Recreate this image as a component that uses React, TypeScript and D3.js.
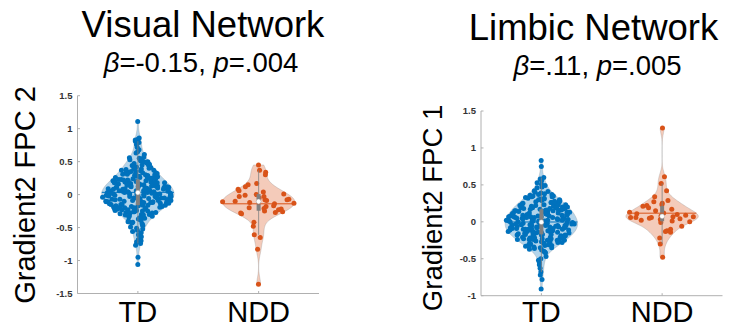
import React from 'react';
import * as d3 from 'd3';

const CATEGORIES = ['TD', 'NDD'];

const VIS_TD = [
  1.11, 0.86, 0.84, 0.83, 0.81, 0.79, 0.76, 0.72, 0.68, 0.65, 0.63, 0.61,
  0.57, 0.56, 0.55, 0.54, 0.53,
  0.52, 0.51, 0.50, 0.50, 0.49, 0.48,
  0.47, 0.46, 0.45, 0.45, 0.44, 0.43,
  0.42, 0.41, 0.41, 0.40, 0.39, 0.39, 0.38,
  0.37, 0.37, 0.36, 0.35, 0.35, 0.34, 0.34, 0.33, 0.33,
  0.32, 0.32, 0.31, 0.31, 0.30, 0.30, 0.29, 0.29, 0.28, 0.28,
  0.27, 0.27, 0.26, 0.26, 0.25, 0.25, 0.25, 0.24, 0.24, 0.23, 0.23, 0.23,
  0.22, 0.22, 0.21, 0.21, 0.21, 0.20, 0.20, 0.19, 0.19, 0.19, 0.18, 0.18, 0.18,
  0.17, 0.17, 0.17, 0.16, 0.16, 0.16, 0.15, 0.15, 0.15, 0.14, 0.14, 0.14, 0.13, 0.13, 0.13,
  0.12, 0.12, 0.12, 0.11, 0.11, 0.11, 0.11, 0.10, 0.10, 0.10, 0.10, 0.09, 0.09, 0.09, 0.09, 0.08, 0.08, 0.08,
  0.07, 0.07, 0.07, 0.06, 0.06, 0.06, 0.06, 0.05, 0.05, 0.05, 0.05, 0.04, 0.04, 0.04, 0.04, 0.03, 0.03, 0.03,
  0.02, 0.02, 0.02, 0.02, 0.01, 0.01, 0.01, 0.01, 0.00, 0.00, 0.00, 0.00, -0.01, -0.01, -0.01, -0.01, -0.02, -0.02, -0.02,
  -0.03, -0.03, -0.03, -0.03, -0.04, -0.04, -0.04, -0.04, -0.05, -0.05, -0.05, -0.05, -0.06, -0.06, -0.06, -0.07, -0.07, -0.07,
  -0.08, -0.08, -0.08, -0.09, -0.09, -0.09, -0.09, -0.10, -0.10, -0.10, -0.11, -0.11, -0.11, -0.12, -0.12, -0.12, -0.12,
  -0.13, -0.13, -0.13, -0.14, -0.14, -0.14, -0.15, -0.15, -0.15, -0.16, -0.16, -0.16, -0.17, -0.17, -0.17,
  -0.18, -0.18, -0.19, -0.19, -0.19, -0.20, -0.20, -0.21, -0.21, -0.21, -0.22, -0.22, -0.22,
  -0.23, -0.23, -0.24, -0.24, -0.25, -0.25, -0.26, -0.26, -0.27, -0.27,
  -0.28, -0.28, -0.29, -0.30, -0.30, -0.31, -0.31, -0.32,
  -0.33, -0.34, -0.35, -0.36, -0.36, -0.37,
  -0.38, -0.39, -0.40, -0.41, -0.42,
  -0.43, -0.44, -0.46, -0.47,
  -0.49, -0.51, -0.52,
  -0.54, -0.56, -0.58, -0.61, -0.64, -0.68, -0.70, -0.72, -0.74, -0.77, -0.95, -1.06,
];

const VIS_NDD = [
  0.45, 0.37, 0.34, 0.30, 0.17, 0.15, 0.12, 0.08, 0.06, 0.04, 0.01, 0.0, -0.01,
  -0.03, -0.03, -0.05, -0.07, -0.08, -0.08, -0.09, -0.10, -0.11, -0.12, -0.13, -0.14,
  -0.17, -0.18, -0.20, -0.21, -0.22, -0.23, -0.25, -0.26, -0.27, -0.28, -0.29,
  -0.42, -0.48, -0.61, -0.65, -0.83, -1.36,
];

const LIM_TD = [
  0.83, 0.75, 0.60, 0.58, 0.56, 0.53, 0.51, 0.49, 0.47, 0.46,
  0.42, 0.41, 0.40, 0.39, 0.38,
  0.37, 0.37, 0.36, 0.35, 0.35, 0.34, 0.34, 0.33,
  0.32, 0.32, 0.31, 0.31, 0.30, 0.30, 0.29, 0.29, 0.28, 0.28,
  0.27, 0.27, 0.26, 0.26, 0.25, 0.25, 0.25, 0.24, 0.24, 0.23, 0.23, 0.23,
  0.22, 0.22, 0.22, 0.21, 0.21, 0.21, 0.20, 0.20, 0.19, 0.19, 0.19, 0.18, 0.18, 0.18,
  0.17, 0.17, 0.17, 0.16, 0.16, 0.16, 0.15, 0.15, 0.15, 0.15, 0.14, 0.14, 0.14, 0.13, 0.13, 0.13,
  0.12, 0.12, 0.12, 0.11, 0.11, 0.11, 0.11, 0.10, 0.10, 0.10, 0.10, 0.09, 0.09, 0.09, 0.08, 0.08, 0.08,
  0.07, 0.07, 0.07, 0.07, 0.06, 0.06, 0.06, 0.06, 0.05, 0.05, 0.05, 0.05, 0.04, 0.04, 0.04, 0.03, 0.03, 0.03,
  0.02, 0.02, 0.02, 0.02, 0.01, 0.01, 0.01, 0.01, 0.00, 0.00, 0.00, 0.00, -0.01, -0.01, -0.01, -0.01, -0.02, -0.02, -0.02,
  -0.03, -0.03, -0.03, -0.03, -0.04, -0.04, -0.04, -0.04, -0.05, -0.05, -0.05, -0.05, -0.06, -0.06, -0.06, -0.06, -0.07, -0.07, -0.07, -0.07,
  -0.08, -0.08, -0.08, -0.08, -0.09, -0.09, -0.09, -0.09, -0.10, -0.10, -0.10, -0.10, -0.11, -0.11, -0.11, -0.11, -0.12, -0.12, -0.12,
  -0.13, -0.13, -0.13, -0.13, -0.14, -0.14, -0.14, -0.14, -0.15, -0.15, -0.15, -0.16, -0.16, -0.16, -0.17, -0.17, -0.17,
  -0.18, -0.18, -0.18, -0.19, -0.19, -0.19, -0.20, -0.20, -0.20, -0.21, -0.21, -0.21, -0.22, -0.22, -0.22,
  -0.23, -0.23, -0.23, -0.24, -0.24, -0.24, -0.25, -0.25, -0.25, -0.26, -0.26, -0.27, -0.27,
  -0.28, -0.28, -0.29, -0.29, -0.30, -0.30, -0.31, -0.31, -0.32, -0.32,
  -0.33, -0.33, -0.34, -0.35, -0.35, -0.36, -0.37,
  -0.38, -0.40, -0.41, -0.42,
  -0.47, -0.50, -0.52, -0.55, -0.58, -0.63, -0.68, -0.72, -0.78, -0.91,
];

const LIM_NDD = [
  1.27, 0.61, 0.52, 0.42, 0.34, 0.29, 0.27, 0.25, 0.23, 0.22, 0.21, 0.19, 0.17, 0.15,
  0.13, 0.12, 0.11, 0.10, 0.09, 0.08, 0.07, 0.07, 0.06, 0.06, 0.06, 0.05, 0.04, 0.03,
  0.02, 0.01, 0.0, -0.01, -0.06, -0.10, -0.12, -0.13, -0.14, -0.22, -0.30, -0.48,
];

const VIS_TICKS = [-1.5, -1, -0.5, 0, 0.5, 1, 1.5];
const LIM_TICKS = [-1, -0.5, 0, 0.5, 1, 1.5];

const COLORS = ['#0072BD', '#D95319'];

const FONT = '"Liberation Sans", Arial, Helvetica, sans-serif';

interface PanelCfg {
  title: string;
  beta: string;
  pval: string;
  ylabel: string;
  groups: number[][];
  ticks: number[];
  yDomain: [number, number];
  yRange: [number, number];
  xRange: [number, number];
  titleX: number;
  titleY: number;
  subX: number;
  subY: number;
  ylabelX: number;
  ylabelY: number;
  ylabelSize: number;
  seed: number;
}

function kde(data: number[]) {
  const med = d3.median(data) as number;
  const mad = d3.median(data.map((v) => Math.abs(v - med))) as number;
  const sig = mad / 0.6745;
  const bw = sig * Math.pow(4 / (3 * data.length), 0.2);
  const lo = d3.min(data) as number;
  const hi = d3.max(data) as number;
  const N = 120;
  const pts: { v: number; d: number }[] = [];
  for (let i = 0; i <= N; i++) {
    const v = lo + ((hi - lo) * i) / N;
    let s = 0;
    for (const x of data) {
      const z = (v - x) / bw;
      s += Math.exp(-0.5 * z * z);
    }
    pts.push({ v, d: s / (data.length * bw * Math.sqrt(2 * Math.PI)) });
  }
  const maxD = d3.max(pts, (p) => p.d) as number;
  return { pts, maxD, bw };
}

function densityAt(pts: { v: number; d: number }[], v: number) {
  if (v <= pts[0].v) return pts[0].d;
  for (let i = 1; i < pts.length; i++) {
    if (v <= pts[i].v) {
      const a = pts[i - 1];
      const b = pts[i];
      const t = (v - a.v) / (b.v - a.v || 1);
      return a.d + t * (b.d - a.d);
    }
  }
  return pts[pts.length - 1].d;
}

// deterministic hash for scatter jitter placement (layout only)
function hash01(i: number, seed: number) {
  const s = Math.sin(i * 127.1 + seed * 311.7) * 43758.5453;
  return s - Math.floor(s);
}

function Violin({ data, pos, color, x, y, seed }: { data: number[]; pos: number; color: string; x: any; y: any; seed: number }) {
  const { pts, maxD } = kde(data);
  const W = 0.3;
  const hw = (d: number) => (d / maxD) * W;
  const area = d3
    .area<{ v: number; d: number }>()
    .y((p) => y(p.v))
    .x0((p) => x(pos - hw(p.d)))
    .x1((p) => x(pos + hw(p.d)));
  const sorted = [...data].sort((a, b) => a - b);
  const q1 = d3.quantile(sorted, 0.25) as number;
  const q2 = d3.quantile(sorted, 0.5) as number;
  const q3 = d3.quantile(sorted, 0.75) as number;
  const iqr = q3 - q1;
  const upper = d3.max(sorted.filter((v) => v <= q3 + 1.5 * iqr)) as number;
  const lower = d3.min(sorted.filter((v) => v >= q1 - 1.5 * iqr)) as number;
  const mean = d3.mean(data) as number;
  const meanW = hw(densityAt(pts, mean));
  return (
    <g>
      <path d={area(pts) || ''} fill={color} fillOpacity={0.3} stroke="#8c8c8c" strokeOpacity={0.5} strokeWidth={0.6} />
      {data.map((v, i) => {
        const u = hash01(i + 1, seed);
        const j = (u * 2 - 1) * hw(densityAt(pts, v));
        return <circle key={i} cx={x(pos + j)} cy={y(v)} r={2.5} fill={color} />;
      })}
      <line x1={x(pos)} x2={x(pos)} y1={y(lower)} y2={y(upper)} stroke="#808080" strokeWidth={0.8} />
      <rect x={x(pos) - 2} width={4} y={y(q3)} height={y(q1) - y(q3)} fill="#808080" />
      <line x1={x(pos - meanW)} x2={x(pos + meanW)} y1={y(mean)} y2={y(mean)} stroke={color} strokeWidth={1} />
      <circle cx={x(pos)} cy={y(q2)} r={2.4} fill="#ffffff" stroke="#9a9a9a" strokeWidth={0.4} />
    </g>
  );
}

function Panel({ cfg }: { cfg: PanelCfg }) {
  const x = d3.scaleLinear().domain([0.5, 2.5]).range(cfg.xRange);
  const y = d3.scaleLinear().domain(cfg.yDomain).range(cfg.yRange);
  const [x0, x1] = cfg.xRange;
  const yb = cfg.yRange[0];
  const yt = cfg.yRange[1];
  return (
    <g>
      <text x={cfg.titleX} y={cfg.titleY} textAnchor="middle" fontFamily={FONT} fontSize={36.5} fill="#000">
        {cfg.title}
      </text>
      <text x={cfg.subX} y={cfg.subY} textAnchor="middle" fontFamily={FONT} fontSize={27.5} fill="#000">
        <tspan fontStyle="italic">β</tspan>
        {cfg.beta + ', '}
        <tspan fontStyle="italic">p</tspan>
        {cfg.pval}
      </text>
      <text
        transform={`translate(${cfg.ylabelX},${cfg.ylabelY}) rotate(-90)`}
        textAnchor="middle"
        fontFamily={FONT}
        fontSize={cfg.ylabelSize}
        fill="#000"
      >
        {cfg.ylabel}
      </text>
      {cfg.groups.map((g, i) => (
        <Violin key={i} data={g} pos={i + 1} color={COLORS[i]} x={x} y={y} seed={cfg.seed + i * 7} />
      ))}
      <line x1={x0} x2={x0} y1={yb} y2={yt} stroke="#b0b0b0" strokeWidth={1} />
      <line x1={x0} x2={x1} y1={yb} y2={yb} stroke="#b0b0b0" strokeWidth={1} />
      {cfg.ticks.map((t) => (
        <g key={t}>
          <line x1={x0} x2={x0 + 2.5} y1={y(t)} y2={y(t)} stroke="#b0b0b0" strokeWidth={1} />
          <text x={x0 - 5} y={y(t)} dy="0.35em" textAnchor="end" fontFamily={FONT} fontWeight="bold" fontSize={9.5} fill="#333">
            {String(t)}
          </text>
        </g>
      ))}
      {CATEGORIES.map((c, i) => (
        <g key={c}>
          <line x1={x(i + 1)} x2={x(i + 1)} y1={yb} y2={yb - 2.5} stroke="#b0b0b0" strokeWidth={1} />
          <text x={x(i + 1)} y={321.5} textAnchor="middle" fontFamily={FONT} fontSize={29} fill="#000">
            {c}
          </text>
        </g>
      ))}
    </g>
  );
}

const PANELS: PanelCfg[] = [
  {
    title: 'Visual Network',
    beta: '=-0.15',
    pval: '=.004',
    ylabel: 'Gradient2 FPC 2',
    groups: [VIS_TD, VIS_NDD],
    ticks: VIS_TICKS,
    yDomain: [-1.5, 1.5],
    yRange: [293.5, 95.7],
    xRange: [77.5, 319],
    titleX: 203,
    titleY: 36.5,
    subX: 201,
    subY: 72,
    ylabelX: 35,
    ylabelY: 195,
    ylabelSize: 29,
    seed: 3,
  },
  {
    title: 'Limbic Network',
    beta: '=.11',
    pval: '=.005',
    ylabel: 'Gradient2 FPC 1',
    groups: [LIM_TD, LIM_NDD],
    ticks: LIM_TICKS,
    yDomain: [-1, 1.5],
    yRange: [295.7, 111],
    xRange: [481, 722.5],
    titleX: 593.5,
    titleY: 39.5,
    subX: 597.5,
    subY: 75,
    ylabelX: 441.5,
    ylabelY: 208,
    ylabelSize: 27.5,
    seed: 11,
  },
];

export default function App() {
  return (
    <svg
      width={733}
      height={326}
      viewBox="0 0 733 326"
      style={{ position: 'absolute', left: 0, top: 0, background: '#fff' }}
    >
      <rect width={733} height={326} fill="#fff" />
      {PANELS.map((p, i) => (
        <Panel key={i} cfg={p} />
      ))}
    </svg>
  );
}
